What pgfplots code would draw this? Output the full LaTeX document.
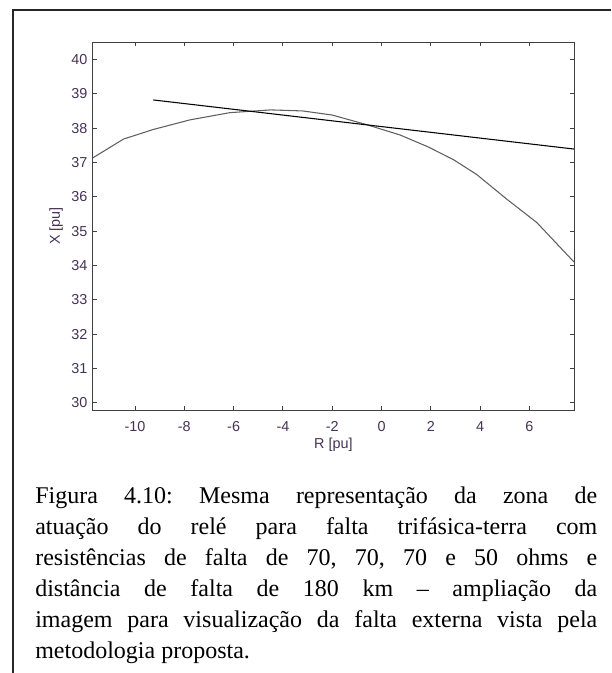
\documentclass[border=0pt]{standalone}
\usepackage{fontspec}
\setmainfont{Liberation Serif}
\newfontfamily\arial{Liberation Sans}
\usepackage{pgfplots}
\pgfplotsset{compat=1.18}
\definecolor{lbl}{RGB}{70,50,85}
\definecolor{curvegray}{RGB}{95,95,95}
\begin{document}
\begin{tikzpicture}
% page: 611x673 px, 1 px = 0.75pt, y runs downward
\useasboundingbox (0,0) rectangle (458.25pt,-504.75pt);
\draw[line width=1.1pt, black!85] (9.75pt,-504.75pt) -- (9.75pt,-7.5pt) -- (458.25pt,-7.5pt);

\begin{axis}[
    at={(69.5pt,-307.5pt)}, anchor=south west,
    scale only axis,
    width=361pt, height=275.8pt,
    xmin=-11.72, xmax=7.81,
    ymin=29.79, ymax=40.50,
    xtick={-10,-8,-6,-4,-2,0,2,4,6},
    xticklabels={-10,-8,-6,-4,-2,0,2,4,6},
    ytick={30,31,32,33,34,35,36,37,38,39,40},
    yticklabels={30,31,32,33,34,35,36,37,38,39,40},
    tick pos=both, tick align=inside,
    major tick length=3pt,
    axis line style={black!75, line width=0.75pt},
    every tick/.style={black!75, line width=0.75pt},
    tick label style={font=\arial\fontsize{10.8}{12}\selectfont, text=lbl},
    xticklabel style={anchor=base, yshift=-15.75pt},
    yticklabel style={xshift=-0.5pt},
    xlabel={R [pu]}, ylabel={X [pu]},
    label style={font=\arial\fontsize{10.8}{12}\selectfont, text=lbl},
    xlabel style={at={(axis description cs:0.5,0)}, anchor=base, yshift=-28.5pt},
    ylabel style={at={(axis description cs:-0.068,0.5)}, anchor=base},
    clip=true,
]
\addplot[curvegray, line width=0.8pt] coordinates {
    (-11.72,37.13) (-10.47,37.68) (-9.26,37.96) (-7.77,38.24)
    (-6.15,38.45) (-4.50,38.53) (-3.20,38.50) (-2.00,38.38)
    (-0.60,38.10) (0.75,37.80) (1.90,37.45) (2.92,37.08)
    (3.86,36.65) (5.10,35.92) (6.30,35.25) (7.81,34.10)
};
\addplot[black, line width=0.8pt] coordinates {
    (-9.26,38.82) (7.81,37.39)
};
\end{axis}

\node[anchor=north west, inner sep=0pt, text width=421.5pt, align=justify,
      font=\fontsize{18}{23.25}\selectfont] at (26.25pt,-365pt)
  {\frenchspacing\hyphenpenalty=10000 \exhyphenpenalty=10000 \tolerance=9999
   Figura 4.10: Mesma representação da zona de\linebreak
   atuação do relé para falta trifásica-terra com\linebreak
   resistências de falta de 70, 70, 70 e 50 ohms e\linebreak
   distância de falta de 180 km – ampliação da\linebreak
   imagem para visualização da falta externa vista pela\linebreak
   metodologia proposta.};
\end{tikzpicture}
\end{document}
